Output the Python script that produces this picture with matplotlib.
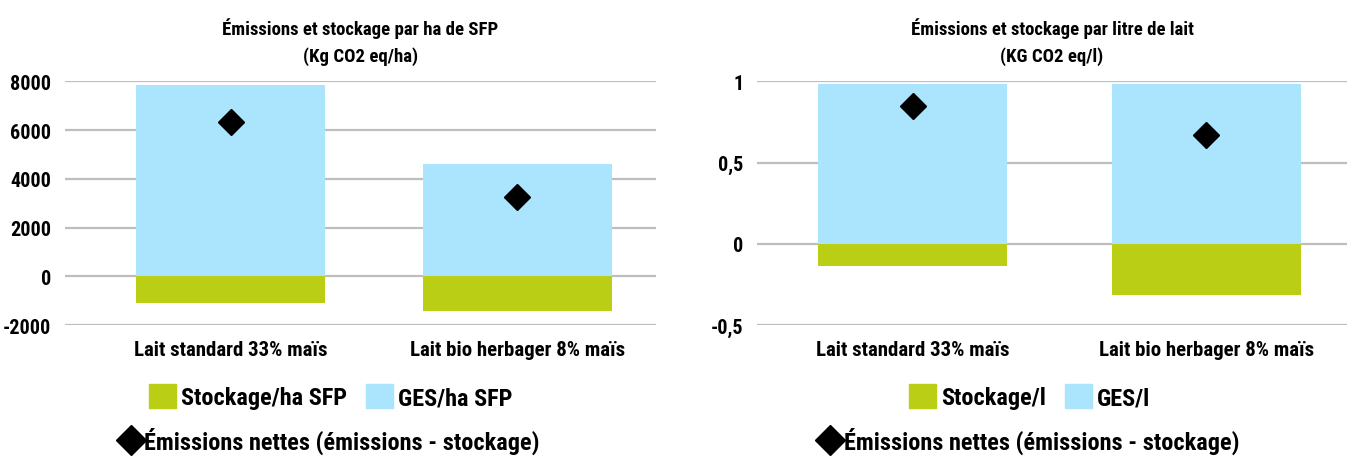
import matplotlib
matplotlib.use('Agg')
from matplotlib import pyplot as plt
from matplotlib.patches import Patch
from matplotlib.lines import Line2D
from matplotlib import font_manager

# Data.
categories = ['Lait standard 33% maïs', 'Lait bio herbager 8% maïs']

ges_ha = [7830, 4600]
stock_ha = [-1090, -1430]
net_ha = [6330, 3260]

ges_l = [0.982, 0.982]
stock_l = [-0.135, -0.313]
net_l = [0.848, 0.668]

green = '#B9CE14'
blue = '#ABE5FD'

# Pick the narrowest installed face we can find.
names = {f.name for f in font_manager.fontManager.ttflist}
narrow = [n for n in ['Roboto Condensed', 'Liberation Sans Narrow', 'Open Sans Condensed',
                      'Noto Sans Condensed', 'DejaVu Sans Condensed'] if n in names]
FONT = narrow[:1] + ['DejaVu Sans']
plt.rcParams['font.family'] = FONT
plt.rcParams['font.weight'] = 'bold'
plt.rcParams['font.stretch'] = 'condensed'


def panel(ax, ges, stock, net, title, ylim, yticks, yticklabels, xlim, width):
    x = range(len(categories))
    ax.bar(x, ges, width=width, color=blue, zorder=2)
    ax.bar(x, stock, width=width, color=green, zorder=2)
    ax.plot(x, net, linestyle='none', marker='D', markersize=13,
            color='black', zorder=3)
    ax.set_xlim(*xlim)
    ax.set_ylim(*ylim)
    ax.set_yticks(yticks)
    ax.set_yticklabels(yticklabels, fontsize=14.5, fontweight='bold')
    ax.set_xticks(list(x))
    ax.set_xticklabels(categories, fontsize=15, fontweight='bold')
    ax.tick_params(axis='y', length=0, pad=10)
    ax.tick_params(axis='x', length=0, pad=11)
    ax.yaxis.grid(True, color='#BEBEBE', linewidth=1.6, zorder=0)
    ax.set_axisbelow(True)
    for s in ax.spines.values():
        s.set_visible(False)
    ax.set_title(title, fontsize=13.5, fontweight='bold', linespacing=1.55, pad=15)


fig = plt.figure(figsize=(13.55, 4.6), dpi=100)
ax1 = fig.add_axes([0.048, 0.291, 0.436, 0.530])
ax2 = fig.add_axes([0.5587, 0.291, 0.4354, 0.530])

panel(ax1, ges_ha, stock_ha, net_ha,
      'Émissions et stockage par ha de SFP\n(Kg CO2 eq/ha)',
      (-2000, 8000), [-2000, 0, 2000, 4000, 6000, 8000],
      ['-2000', '0', '2000', '4000', '6000', '8000'],
      (-0.577, 1.483), 0.66)
panel(ax2, ges_l, stock_l, net_l,
      'Émissions et stockage par litre de lait\n(KG CO2 eq/l)',
      (-0.5, 1.0), [-0.5, 0, 0.5, 1.0],
      ['-0,5', '0', '0,5', '1'],
      (-0.529, 1.478), 0.643)

# Legends: two patches on one row, diamond entry below.
legend_font = {'family': FONT, 'weight': 'bold', 'size': 17.5, 'stretch': 'condensed'}
for cx, labels in [(0.244, ['Stockage/ha SFP', 'GES/ha SFP']),
                   (0.760, ['Stockage/l', 'GES/l'])]:
    handles = [Patch(color=green, label=labels[0]), Patch(color=blue, label=labels[1])]
    fig.legend(handles=handles, loc='center', bbox_to_anchor=(cx, 0.135),
               ncol=2, frameon=False, handlelength=1.1,
               handleheight=1.1, handletextpad=0.2, columnspacing=0.8,
               prop=legend_font)
    diamond = Line2D([], [], linestyle='none', marker='D', markersize=15,
                     color='black', label='Émissions nettes (émissions - stockage)')
    fig.legend(handles=[diamond], loc='center', bbox_to_anchor=(cx, 0.041),
               frameon=False, handlelength=0.8, handletextpad=0.15,
               prop=legend_font)

fig.savefig('out.png', dpi=100)
